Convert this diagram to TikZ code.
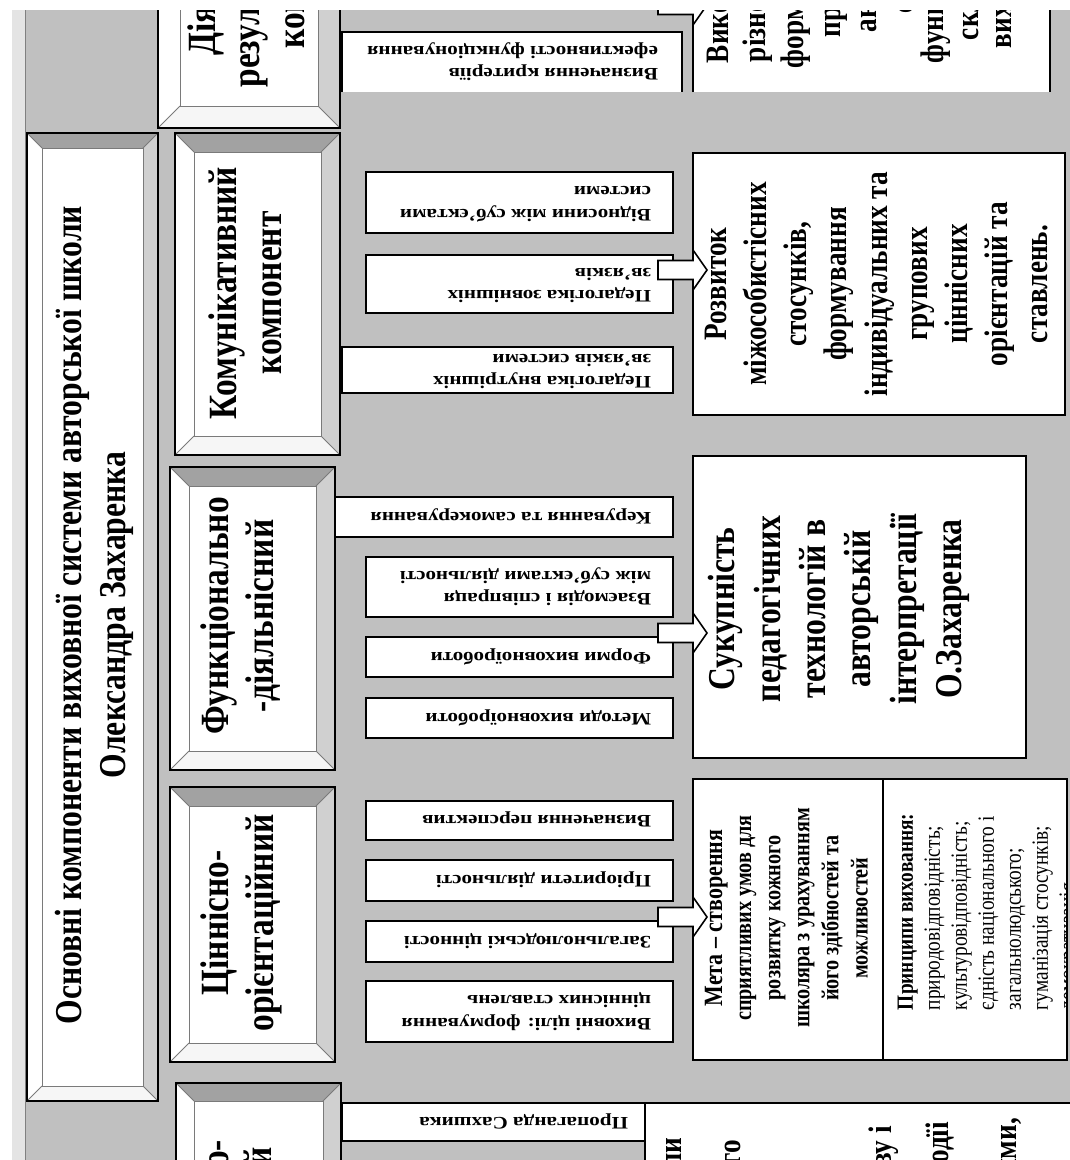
\documentclass[tikz,border=0pt]{standalone}
\usepackage{fontspec}
\setmainfont{Liberation Serif}
\usepackage{graphicx}
\usetikzlibrary{calc}
\definecolor{bg}{HTML}{C0C0C0}
\definecolor{bvtop}{HTML}{A2A2A2}
\definecolor{bvright}{HTML}{D0D0D0}
\definecolor{bvleft}{HTML}{FFFFFF}
\definecolor{bvbot}{HTML}{F6F6F6}
\definecolor{innerln}{HTML}{7A7A7A}
\definecolor{strip}{HTML}{E4E4E4}
\newcommand\vtx[2][c]{\scalebox{1}[1.2]{\begin{tabular}{@{}#1@{}}#2\end{tabular}}}
\newcommand\htx[2][l]{\scalebox{1.2}[1]{\begin{tabular}{@{}#1@{}}#2\end{tabular}}}
% white box node: name, x1,y1,x2,y2
\newcommand\wbox[6][]{\node[wbox,#1, minimum width={(#5-#3)*0.02cm}, minimum height={(#6-#4)*0.02cm}] (#2) at ({(#3+#5)/2},{(#4+#6)/2}) {};}
% bevelled frame: name, x1,y1,x2,y2,d
\newcommand\bevel[6]{%
 \fill[bvtop] (#2,#3) -- (#4,#3) -- ({#4-#6},{#3+#6}) -- ({#2+#6},{#3+#6}) -- cycle;
 \fill[bvright] (#4,#3) -- (#4,#5) -- ({#4-#6},{#5-#6}) -- ({#4-#6},{#3+#6}) -- cycle;
 \fill[bvbot] (#2,#5) -- (#4,#5) -- ({#4-#6},{#5-#6}) -- ({#2+#6},{#5-#6}) -- cycle;
 \fill[bvleft] (#2,#3) -- (#2,#5) -- ({#2+#6},{#5-#6}) -- ({#2+#6},{#3+#6}) -- cycle;
 \draw[innerln, line width=0.5pt, fill=white] ({#2+#6},{#3+#6}) rectangle ({#4-#6},{#5-#6});
 \draw[innerln, line width=0.5pt] (#2,#3) -- ({#2+#6},{#3+#6}) (#4,#3) -- ({#4-#6},{#3+#6})
   (#4,#5) -- ({#4-#6},{#5-#6}) (#2,#5) -- ({#2+#6},{#5-#6});
 \node[frame, minimum width={(#4-#2)*0.02cm}, minimum height={(#5-#3)*0.02cm}] (#1) at ({(#2+#4)/2},{(#3+#5)/2}) {};}
% block arrow into node #1 at height #2
\newcommand\barrow[2]{%
 \coordinate (tmp) at (#1.west |- 0,#2);
 \draw[barrow] ($(tmp)+(-35,-9.5)$) -- ++(35,0) -- ++(0,-10.5) -- ++(14,20) -- ++(-14,20) -- ++(0,-10.5) -- ++(-35,0) -- cycle;}
\begin{document}
\begin{tikzpicture}[x=0.02cm,y=-0.02cm,
  wbox/.style={draw=black, fill=white, line width=0.9pt, inner sep=0pt, outer sep=0pt},
  frame/.style={draw=black, line width=0.9pt, inner sep=0pt, outer sep=0pt},
  txt/.style={inner sep=0pt, outer sep=0pt, text=black},
  barrow/.style={draw=black, fill=white, line width=0.9pt, line join=miter},
  fTitle/.style={font=\fontsize{18}{20.9}\selectfont\bfseries},
  fComp/.style={font=\fontsize{19}{21.3}\selectfont\bfseries},
  fSuk/.style={font=\fontsize{18}{21.5}\selectfont\bfseries},
  fRoz/.style={font=\fontsize{15.5}{19}\selectfont\bfseries},
  fMeta/.style={font=\fontsize{11.5}{13.8}\selectfont\bfseries},
  fPrin/.style={font=\fontsize{11}{12.8}\selectfont},
  fSmall/.style={font=\fontsize{10}{13}\selectfont\bfseries}]
\useasboundingbox (0,0) rectangle (1070,1160);
\fill[white] (0,0) rectangle (1070,1160);
\fill[strip] (12,10) rectangle (25,1160);
\begin{scope}
\clip (25,10) rectangle (1070,1160);
\fill[bg] (25,10) rectangle (1070,1160);
\draw[gray, line width=0.6pt] (25.5,10) -- (25.5,1160);

% ---------------- frames (left column) ----------------
\bevel{title}{27}{133}{158}{1101}{15}
\node[txt, fTitle, rotate=90] (titlet) at (95,615) {\vtx{Основні компоненти виховної системи авторської школи\\Олександра Захаренка}};

\bevel{dial}{158}{-250}{340}{128}{22}
\node[txt, fComp, rotate=90] (dialt) at (251,-33) {\vtx{Діяльнісно-\\результативний\\компонент}};

\bevel{kom}{175}{133}{340}{455}{19}
\node[txt, fComp, rotate=90] (komt) at (250,293) {\vtx{Комунікативний\\компонент}};

\bevel{fun}{170}{467}{335}{770}{19}
\node[txt, fComp, rotate=90] (funt) at (242,616) {\vtx{Функціонально\\-діяльнісний}};

\bevel{cin}{170}{787}{335}{1062}{19}
\node[txt, fComp, rotate=90] (cint) at (242,923) {\vtx{Ціннісно-\\орієнтаційний}};

\bevel{soc}{176}{1083}{341}{1400}{18}
\node[txt, fComp, rotate=90, anchor=east] (soct1) at (220,1140) {\vtx{Соціально-}};
\node[txt, fComp, rotate=90, anchor=east] (soct2) at (263,1147) {\vtx{педагогічний}};

% ---------------- top group ----------------
\wbox[draw=none]{vk}{342}{32}{682}{92}
\draw[line width=0.9pt] (vk.south west) -- (vk.north west) -- (vk.north east) -- (vk.south east);
\node[txt, fSmall, rotate=180, anchor=west] (vkt) at ($(vk.east)+(-24,0)$) {\htx{Визначення критеріїв\\ефективності функціонування}};

\wbox[draw=none]{vyk}{693}{-300}{1050}{92}
\draw[line width=0.9pt] (vyk.south west) -- (vyk.north west) -- (vyk.north east) -- (vyk.south east);
\begin{scope}[fRoz]
\node[txt, rotate=90, anchor=west] (v1) at (720,63) {\vtx{Використання}};
\node[txt, rotate=90, anchor=west] (v2) at (757,62) {\vtx{різноманітних}};
\node[txt, rotate=90, anchor=west] (v3) at (795,68) {\vtx{форм,}};
\node[txt, rotate=90, anchor=west] (v4) at (832,37) {\vtx{прийомів}};
\node[txt, rotate=90, anchor=west] (v5) at (868,32) {\vtx{аналізу}};
\node[txt, rotate=90, anchor=west] (v6) at (905,13) {\vtx{системи}};
\node[txt, rotate=90, anchor=west] (v7) at (935,63) {\vtx{функцій}};
\node[txt, rotate=90, anchor=west] (v8) at (970,40) {\vtx{складових}};
\node[txt, rotate=90, anchor=west] (v9) at (1003,48) {\vtx{виховання}};
\end{scope}
\barrow{vyk}{5}

% ---------------- communicative group ----------------
\wbox{k1}{366}{172}{673}{233}
\wbox{k2}{366}{255}{673}{313}
\wbox{k3}{342}{347}{673}{393}
\node[txt, fSmall, rotate=180, anchor=west] (k1t) at ($(k1.east)+(-22,0)$) {\htx{Відносини між суб'єктами\\системи}};
\node[txt, fSmall, rotate=180, anchor=west] (k2t) at ($(k2.east)+(-22,0)$) {\htx{Педагогіка зовнішніх\\зв'язків}};
\node[txt, fSmall, rotate=180, anchor=west] (k3t) at ($(k3.east)+(-22,0)$) {\htx{Педагогіка внутрішніх\\зв'язків системи}};
\wbox{rozv}{693}{153}{1065}{415}
\node[txt, fRoz, rotate=90] (rozvt) at (879,284) {\vtx{Розвиток\\міжособистісних\\стосунків,\\формування\\індивідуальних та\\групових\\ціннісних\\орієнтацій та\\ставлень.}};
\barrow{rozv}{270}

% ---------------- functional group ----------------
\wbox{f1}{335}{497}{673}{537}
\wbox{f2}{366}{557}{673}{617}
\wbox{f3}{366}{637}{673}{677}
\wbox{f4}{366}{698}{673}{738}
\node[txt, fSmall, rotate=180, anchor=west] (f1t) at ($(f1.east)+(-22,0)$) {\htx{Керування та самокерування}};
\node[txt, fSmall, rotate=180, anchor=west] (f2t) at ($(f2.east)+(-22,0)$) {\htx{Взаємодія і співпраця\\між суб'єктами діяльності}};
\node[txt, fSmall, rotate=180, anchor=west] (f3t) at ($(f3.east)+(-22,0)$) {\htx{Форми виховноїроботи}};
\node[txt, fSmall, rotate=180, anchor=west] (f4t) at ($(f4.east)+(-22,0)$) {\htx{Методи виховноїроботи}};
\wbox{suk}{693}{456}{1026}{758}
\node[txt, fSuk, rotate=90] (sukt) at (839,609) {\vtx{Сукупність\\педагогічних\\технологій в\\авторській\\інтерпретації\\О.Захаренка}};
\barrow{suk}{633}

% ---------------- value group ----------------
\wbox{c1}{366}{801}{673}{840}
\wbox{c2}{366}{860}{673}{901}
\wbox{c3}{366}{921}{673}{962}
\wbox{c4}{366}{981}{673}{1042}
\node[txt, fSmall, rotate=180, anchor=west] (c1t) at ($(c1.east)+(-22,0)$) {\htx{Визначення перспектив}};
\node[txt, fSmall, rotate=180, anchor=west] (c2t) at ($(c2.east)+(-22,0)$) {\htx{Пріоритети діяльності}};
\node[txt, fSmall, rotate=180, anchor=west] (c3t) at ($(c3.east)+(-22,0)$) {\htx{Загальнолюдські цінності}};
\node[txt, fSmall, rotate=180, anchor=west] (c4t) at ($(c4.east)+(-22,0)$) {\htx{Виховні цілі: формування\\ціннісних ставлень}};
\wbox{meta}{693}{779}{883}{1060}
\wbox{prin}{883}{779}{1067}{1060}
\node[txt, fMeta, rotate=90] (metat) at (789,918) {\vtx{{\fontsize{12.5}{16.5}\selectfont Мета – створення}\\сприятливих умов для\\розвитку кожного\\школяра з урахуванням\\його здібностей та\\можливостей}};
\begin{scope}
\clip (prin.north west) rectangle (prin.south east);
\node[txt, fPrin, rotate=90, anchor=north west] (print) at (894,1010) {\vtx[l]{\textbf{Принципи виховання:}\\природовідповідність;\\культуровідповідність;\\єдність національного і\\загальнолюдського;\\гуманізація стосунків;\\демократизація}};
\end{scope}
\barrow{meta}{917}

% ---------------- bottom group ----------------
\wbox{p1}{342}{1103}{645}{1141}
\node[txt, fSmall, rotate=180, anchor=west] (p1t) at ($(p1.east)+(-17,0)$) {\htx{Пропаганда Сахшика}};
\wbox{bot}{645}{1103}{1090}{1300}
\begin{scope}[fRoz]
\node[txt, rotate=90, anchor=east] (b1) at (673,1138) {\vtx{школи}};
\node[txt, rotate=90, anchor=east] (b2) at (732,1140) {\vtx{кожного}};
\node[txt, rotate=90, anchor=east] (b3) at (883,1126) {\vtx{колективу і}};
\node[txt, rotate=90, anchor=east] (b4) at (940,1122) {\vtx{подїі}};
\node[txt, rotate=90, anchor=east] (b5) at (1008,1118) {\vtx{традиціями,}};
\end{scope}
\end{scope}
\end{tikzpicture}
\end{document}
